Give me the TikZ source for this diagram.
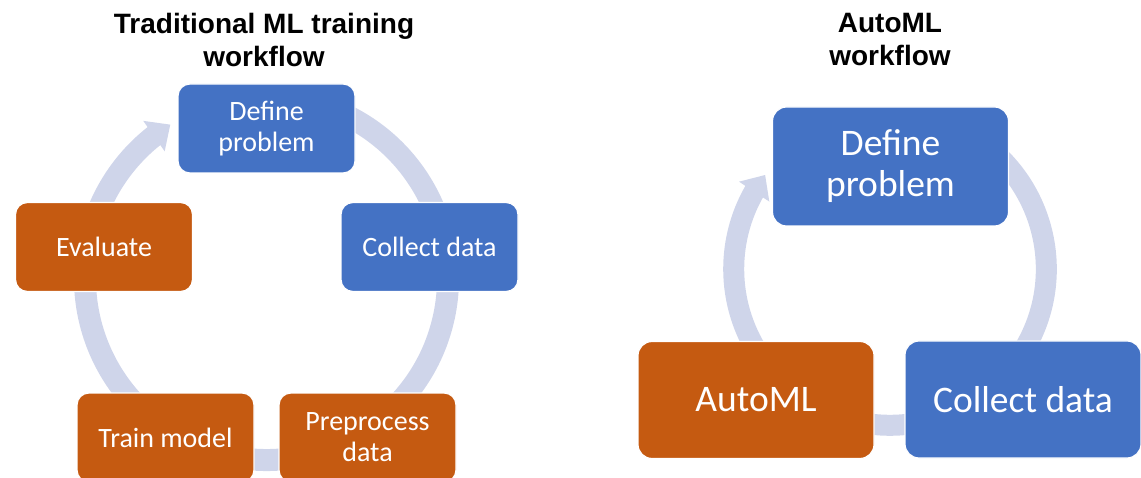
\documentclass[tikz,border=0pt]{standalone}
\usepackage{fontspec}
\setmainfont{Carlito}
\newfontfamily\titlefont{Liberation Sans}
\usetikzlibrary{arrows.meta,bending}
\definecolor{boxblue}{HTML}{4472C4}
\definecolor{boxorange}{HTML}{C55A11}
\definecolor{ringcol}{HTML}{CFD5EA}
\begin{document}
\begin{tikzpicture}[x=1pt,y=1pt,
 lbox/.style={rounded corners=12pt, draw=white, line width=1.2pt, minimum width=177pt, minimum height=89pt, inner sep=0pt, align=center, text=white, font=\fontsize{28}{31}\selectfont},
 rbox/.style={rounded corners=14pt, draw=white, line width=1.2pt, minimum width=236pt, minimum height=117pt, inner sep=0pt, align=center, text=white, font=\fontsize{37.5}{41}\selectfont},
 ttl/.style={font=\titlefont\bfseries\fontsize{28}{33}\selectfont, align=center, inner sep=0pt, anchor=north},
 ringl/.style={draw=ringcol, line width=22pt},
 ringr/.style={draw=ringcol, line width=21pt}
]
\useasboundingbox (0,0) rectangle (1141,-478);
\coordinate (c1) at (266.5,-278.5);
\coordinate (c2) at (890,-269);
% left ring
\draw[ringl] ([shift={(75:181.5)}]c1) arc[start angle=75, end angle=-190, radius=181.5];
\draw[ringl, -{Triangle[width=36pt,length=20pt]}] ([shift={(170:181.5)}]c1) arc[start angle=170, end angle=122, radius=181.5];
% right ring
\draw[ringr] ([shift={(60:156.3)}]c2) arc[start angle=60, end angle=-145, radius=156.3];
\draw[ringr, -{Triangle[width=35pt,length=20pt]}] ([shift={(215:156.3)}]c2) arc[start angle=215, end angle=143, radius=156.3];
% titles
\node[ttl] (t1) at (264,-13) {Traditional ML training\\workflow};
\node[ttl] (t2) at (890,-13) {AutoML\\workflow};
% left boxes
\node[lbox, fill=boxblue] (dp1) at (266.5,-128.5) {Define\\problem};
\node[lbox, fill=boxblue] (cd1) at (429.5,-247) {Collect data};
\node[lbox, fill=boxorange] (ev1) at (104,-247) {Evaluate};
\node[lbox, fill=boxorange] (tm1) at (165.5,-437.5) {Train model};
\node[lbox, fill=boxorange] (pp1) at (367.5,-437.5) {Preprocess\\data};
% right boxes
\node[rbox, fill=boxblue, minimum height=119pt] (dp2) at (890.5,-166.5) {Define\\problem};
\node[rbox, fill=boxorange] (am2) at (756,-400) {AutoML};
\node[rbox, fill=boxblue] (cd2) at (1023,-399.5) {Collect data};
\end{tikzpicture}
\end{document}
